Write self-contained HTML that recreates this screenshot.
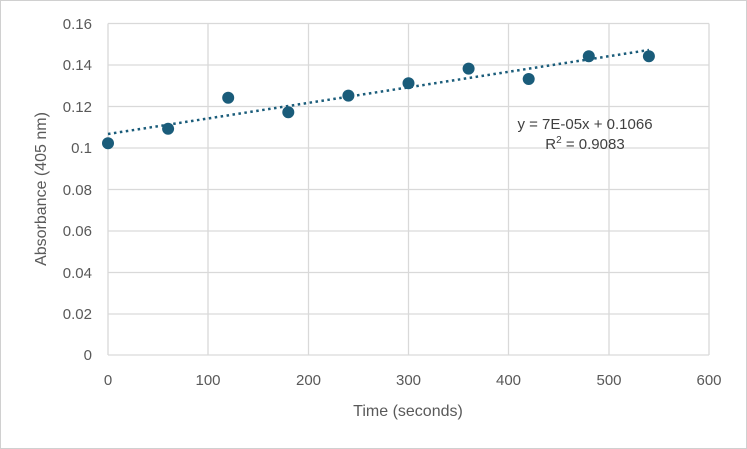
<!DOCTYPE html>
<html><head><style>
body{margin:0;background:#fff;}
svg{display:block;font-family:"Liberation Sans",sans-serif;}
</style></head><body>
<svg width="747" height="449" viewBox="0 0 747 449">
<rect x="0.5" y="0.5" width="746" height="448" fill="#fff" stroke="#d0d0d0"/>
<g stroke="#d9d9d9" stroke-width="1.3">
<line x1="108" y1="23.5" x2="709" y2="23.5"/>
<line x1="108" y1="65" x2="709" y2="65"/>
<line x1="108" y1="106.5" x2="709" y2="106.5"/>
<line x1="108" y1="148" x2="709" y2="148"/>
<line x1="108" y1="189.5" x2="709" y2="189.5"/>
<line x1="108" y1="231" x2="709" y2="231"/>
<line x1="108" y1="272.5" x2="709" y2="272.5"/>
<line x1="108" y1="314" x2="709" y2="314"/>
<line x1="108" y1="355" x2="709" y2="355"/>
<line x1="108" y1="23.5" x2="108" y2="355"/>
<line x1="208" y1="23.5" x2="208" y2="355"/>
<line x1="308.5" y1="23.5" x2="308.5" y2="355"/>
<line x1="408.5" y1="23.5" x2="408.5" y2="355"/>
<line x1="508.5" y1="23.5" x2="508.5" y2="355"/>
<line x1="609" y1="23.5" x2="609" y2="355"/>
<line x1="709" y1="23.5" x2="709" y2="355"/>
</g>
<g font-size="15" fill="#595959" text-anchor="end">
<text x="92" y="29">0.16</text><text x="92" y="70">0.14</text><text x="92" y="112">0.12</text>
<text x="92" y="153">0.1</text><text x="92" y="195">0.08</text><text x="92" y="236">0.06</text>
<text x="92" y="278">0.04</text><text x="92" y="319">0.02</text><text x="92" y="360">0</text>
</g>
<g font-size="15" fill="#595959" text-anchor="middle">
<text x="108" y="385">0</text><text x="208" y="385">100</text><text x="308.5" y="385">200</text>
<text x="408.5" y="385">300</text><text x="508.5" y="385">400</text><text x="609" y="385">500</text><text x="709" y="385">600</text>
<text x="408" y="416" font-size="16">Time (seconds)</text>
<text transform="translate(46,189) rotate(-90)" font-size="16">Absorbance (405 nm)</text>
</g>
<line x1="108" y1="134" x2="649" y2="50" stroke="#1a5c7a" stroke-width="2.5" stroke-dasharray="2.5 3.5"/>
<g fill="#1a5c7a">
<circle cx="108" cy="143.3" r="6"/><circle cx="168.1" cy="128.8" r="6"/><circle cx="228.2" cy="97.7" r="6"/>
<circle cx="288.3" cy="112.2" r="6"/><circle cx="348.4" cy="95.6" r="6"/><circle cx="408.5" cy="83.2" r="6"/>
<circle cx="468.6" cy="68.6" r="6"/><circle cx="528.7" cy="79" r="6"/><circle cx="588.8" cy="56.2" r="6"/><circle cx="648.9" cy="56.2" r="6"/>
</g>
<g font-size="15" fill="#404040" text-anchor="middle">
<text x="585" y="129">y = 7E-05x + 0.1066</text>
<text x="585" y="149">R<tspan font-size="10" dy="-6">2</tspan><tspan dy="6"> = 0.9083</tspan></text>
</g>
</svg>
</body></html>
